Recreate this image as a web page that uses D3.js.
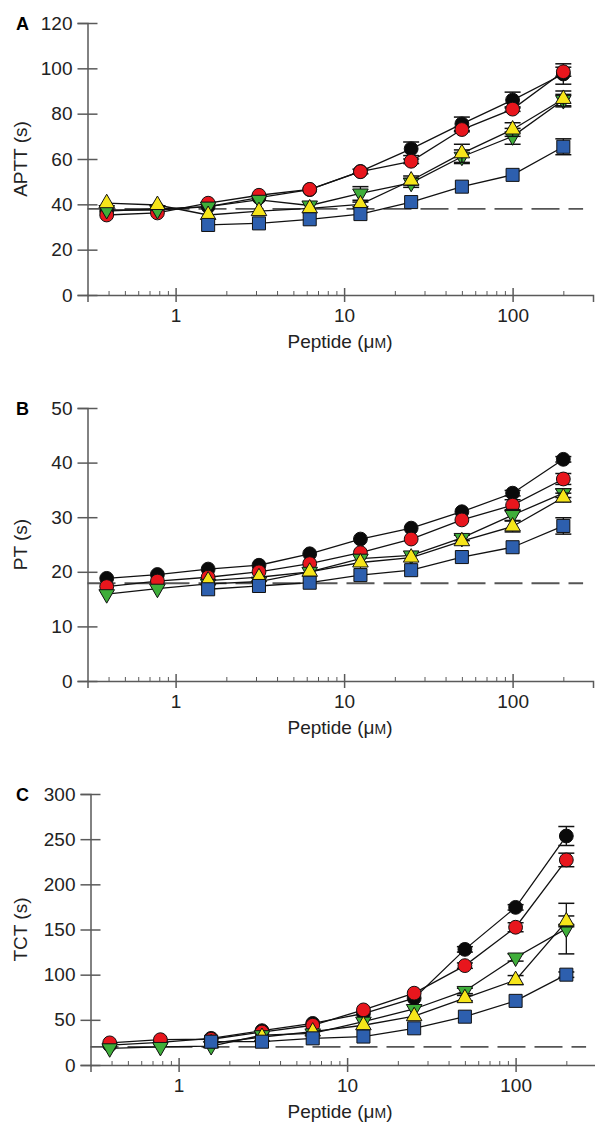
<!DOCTYPE html>
<html>
<head>
<meta charset="utf-8">
<script src="https://cdn.jsdelivr.net/npm/d3@7"></script>
<style>
  body { margin: 0; background: #fff; }
  svg { display: block; font-family: "Liberation Sans", Arial, sans-serif; }
</style>
</head>
<body>
<div id="wrapper"></div>
<script>
// peptide concentrations (µM), two-fold dilutions
const conc = [0.39, 0.78, 1.56, 3.125, 6.25, 12.5, 25, 50, 100, 200];
// series order: black circle, red circle, green down-triangle, yellow up-triangle, blue square
const seriesKeys = ["black", "red", "green", "yellow", "blue"];

const apttValues = [
    [37, 38, 39, 43, 46.5, 54.5, 64.5, 75.5, 86, 97.5],
    [35.3, 36.2, 40.5, 44, 46.6, 54.4, 59, 73, 82, 98.5],
    [37.5, 37.5, 39, 42, 39.5, 44.8, 49.5, 61, 70, 86],
    [40.5, 39.7, 35.3, 37, 38.2, 40, 50.5, 62.5, 73, 86.5],
    [null, null, 30.9, 31.6, 33.4, 35.7, 41, 47.8, 53, 65.4]
];
const apttErrors = [
    [0, 0, 0, 0, 0, 1, 3, 3, 3.5, 4.5],
    [0, 0, 0, 0, 0, 0, 1, 1, 1, 2],
    [0, 0, 0, 0, 0, 3, 2, 3, 3.5, 2.5],
    [0, 0, 0, 0, 0, 1, 2, 4, 3, 3.5],
    [0, 0, 0, 0, 0, 0, 0, 0, 0, 3.5]
];

const ptValues = [
    [18.8, 19.5, 20.5, 21.2, 23.3, 26, 28, 31, 34.4, 40.6],
    [17.3, 18.3, 19, 20, 21.5, 23.5, 26, 29.5, 32.2, 37],
    [15.9, 16.9, 17.8, 18.2, 20, 22.4, 23, 26.2, 30.4, 34.4],
    [null, null, 18.4, 19, 20, 21.7, 22.6, 25.6, 28.3, 33.6],
    [null, null, 16.8, 17.4, 18, 19.4, 20.3, 22.7, 24.5, 28.4]
];
const ptErrors = [
    [0, 0, 0, 0, 0, 0, 0, 0, 0.5, 0.5],
    [0, 0, 0, 0, 0, 0, 0, 0, 1, 1],
    [0, 0, 0, 0, 0, 0, 0, 0.5, 1, 0.8],
    [0, 0, 0, 0, 0, 0, 0, 0, 1, 0.8],
    [0, 0, 0, 0, 0, 0, 0, 0, 0, 1.5]
];

const tctValues = [
    [22, 25, 29.5, 38, 46, 57, 74, 128, 174.5, 253.5],
    [24.5, 28, 28.5, 36.5, 44, 61, 79.5, 110, 152.5, 227],
    [18.5, 20, 21, 33, 35, 48, 62, 82, 119, 151],
    [null, null, 24, 31, 37, 44, 54, 74, 94, 159],
    [null, null, 25.8, 25.8, 29.5, 31.5, 40.6, 53.5, 71, 100]
];
const tctErrors = [
    [0, 0, 0, 0, 0, 0, 0, 3, 3, 10.5],
    [0, 0, 0, 0, 0, 0, 0, 3, 5, 7.5],
    [0, 0, 0, 0, 0, 0, 0, 3, 4, 28],
    [0, 0, 0, 0, 0, 0, 0, 3, 5, 6],
    [0, 0, 0, 0, 0, 0, 0, 0, 0, 3]
];

// normal plasma baselines (dashed)
const apttBaseline = 38;
const ptBaseline = 17.9;
const tctBaseline = 20;

const xTickValues = [1, 10, 100];
const apttTicks = [0, 20, 40, 60, 80, 100, 120];
const ptTicks = [0, 10, 20, 30, 40, 50];
const tctTicks = [0, 50, 100, 150, 200, 250, 300];

const colors = { black: "#0a0a0a", red: "#e8161d", green: "#3fae3a", yellow: "#f6e51a", blue: "#2d5fae" };
const shapes = { black: "circle", red: "circle", green: "down", yellow: "up", blue: "square" };

const width = 595, height = 1128;
const svg = d3.select("#wrapper").append("svg")
    .attr("width", width)
    .attr("height", height);

const axisColor = "#5a5a5a";

function markerPath(shape) {
    if (shape == "circle") return d3.symbol(d3.symbolCircle, 150)();
    if (shape == "square") return d3.symbol(d3.symbolSquare, 170)();
    return d3.symbol(d3.symbolTriangle, 105)();
}

function drawPanel(cfg) {
    const g = svg.append("g");

    const x = d3.scaleLog().domain([0.3, 300]).range([cfg.left, cfg.left + 505.5]);
    const y = d3.scaleLinear().domain([0, cfg.yMax]).range([cfg.bottom, cfg.top]);

    // minor ticks along the log axis
    const minor = [];
    for (let dec = 0.1; dec <= 100; dec *= 10) {
        for (let k = 2; k <= 9; k++) {
            const v = +(k * dec).toPrecision(3);
            if (v >= 0.4 && v <= 200) minor.push(v);
        }
    }
    const minorAxis = g.append("g")
        .attr("transform", `translate(0,${cfg.bottom})`)
        .call(d3.axisBottom(x).tickValues(minor).tickSize(-4).tickFormat(""));
    minorAxis.select(".domain").remove();
    minorAxis.selectAll("line").attr("stroke", axisColor).attr("stroke-width", 1);

    const xAxis = g.append("g")
        .attr("transform", `translate(0,${cfg.bottom})`)
        .call(d3.axisBottom(x).tickValues(xTickValues).tickSizeOuter(0).tickSize(7).tickPadding(7).tickFormat(d3.format("d")));
    xAxis.selectAll("line").attr("y1", -7).attr("stroke", axisColor).attr("stroke-width", 1.5);
    xAxis.select(".domain").attr("stroke", axisColor).attr("stroke-width", 1.5);
    xAxis.selectAll("text").attr("fill", "#222").style("font-size", "19px").style("font-family", "Liberation Sans, Arial, sans-serif");

    const yAxis = g.append("g")
        .attr("transform", `translate(${cfg.left},0)`)
        .call(d3.axisLeft(y).tickValues(cfg.ticks).tickSizeOuter(0).tickSize(10).tickPadding(5));
    yAxis.selectAll("line").attr("x1", 10).attr("stroke", axisColor).attr("stroke-width", 1.5);
    yAxis.select(".domain").attr("stroke", axisColor).attr("stroke-width", 1.5);
    yAxis.selectAll("text").attr("fill", "#222").style("font-size", "19px").style("font-family", "Liberation Sans, Arial, sans-serif");

    // dashed baseline
    g.append("line")
        .attr("x1", x(0.3)).attr("x2", x(262))
        .attr("y1", y(cfg.baseline)).attr("y2", y(cfg.baseline))
        .attr("stroke", "#555")
        .attr("stroke-width", 1.8)
        .attr("stroke-dasharray", "28,9");

    const line = d3.line()
        .defined(d => d.v != null)
        .x(d => x(d.c))
        .y(d => y(d.v));

    seriesKeys.forEach((key, i) => {
        const pts = conc.map((c, j) => ({ c: c, v: cfg.values[i][j], e: cfg.errors[i][j] }));
        const s = g.append("g");
        s.append("path")
            .attr("d", line(pts))
            .attr("fill", "none")
            .attr("stroke", "#111")
            .attr("stroke-width", 1.3);

        const withErr = pts.filter(d => d.v != null && d.e > 0);
        withErr.forEach(d => {
            const cx = x(d.c);
            s.append("line").attr("x1", cx).attr("x2", cx)
                .attr("y1", y(d.v - d.e)).attr("y2", y(d.v + d.e))
                .attr("stroke", "#111").attr("stroke-width", 1.3);
            [d.v - d.e, d.v + d.e].forEach(t => {
                s.append("line").attr("x1", cx - 8).attr("x2", cx + 8)
                    .attr("y1", y(t)).attr("y2", y(t))
                    .attr("stroke", "#111").attr("stroke-width", 1.5);
            });
        });

        s.selectAll("path.marker")
            .data(pts.filter(d => d.v != null))
            .join("path")
            .attr("class", "marker")
            .attr("d", markerPath(shapes[key]))
            .attr("transform", d => `translate(${x(d.c)},${y(d.v)})` + (shapes[key] == "down" ? " rotate(180)" : ""))
            .attr("fill", colors[key])
            .attr("stroke", "#111")
            .attr("stroke-width", 1);
    });

    // labels
    g.append("text")
        .attr("x", 16).attr("y", cfg.top + 7)
        .style("font-size", "18px").style("font-weight", "bold")
        .text(cfg.letter);

    g.append("text")
        .attr("transform", `translate(27,${(cfg.top + cfg.bottom) / 2}) rotate(-90)`)
        .attr("text-anchor", "middle")
        .style("font-size", "19px").attr("fill", "#222")
        .text(cfg.yLabel);

    const xl = g.append("text")
        .attr("x", 340).attr("y", cfg.bottom + 53)
        .attr("text-anchor", "middle")
        .style("font-size", "19px").attr("fill", "#222");
    xl.append("tspan").text("Peptide (μ");
    xl.append("tspan").style("font-size", "14px").text("M");
    xl.append("tspan").text(")");
}

drawPanel({ letter: "A", yLabel: "APTT (s)", top: 23, bottom: 295, left: 87.5, yMax: 120, ticks: apttTicks,
    values: apttValues, errors: apttErrors, baseline: apttBaseline });
drawPanel({ letter: "B", yLabel: "PT (s)", top: 408, bottom: 681, left: 87.5, yMax: 50, ticks: ptTicks,
    values: ptValues, errors: ptErrors, baseline: ptBaseline });
drawPanel({ letter: "C", yLabel: "TCT (s)", top: 794, bottom: 1065, left: 90.5, yMax: 300, ticks: tctTicks,
    values: tctValues, errors: tctErrors, baseline: tctBaseline });
</script>
</body>
</html>
